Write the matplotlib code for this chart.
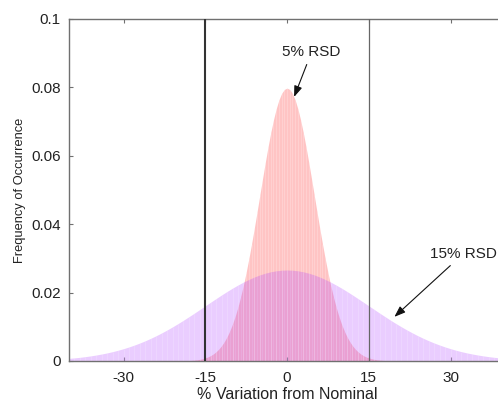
import numpy as np
import matplotlib
matplotlib.use("Agg")
import matplotlib.pyplot as plt

plt.rcParams['font.family'] = ['Liberation Sans', 'DejaVu Sans']

# 15% RSD distribution, sampled every 1 % from -40 to 40
x_wide = np.arange(-40, 41, 1.0)
half_wide = [0.02660, 0.02654, 0.02636, 0.02607, 0.02567, 0.02516, 0.02455, 0.02385,
             0.02307, 0.02221, 0.02130, 0.02033, 0.01931, 0.01827, 0.01720, 0.01613,
             0.01506, 0.01399, 0.01295, 0.01192, 0.01093, 0.00998, 0.00907, 0.00821,
             0.00739, 0.00663, 0.00592, 0.00526, 0.00466, 0.00410, 0.00360, 0.00314,
             0.00273, 0.00236, 0.00204, 0.00175, 0.00149, 0.00127, 0.00107, 0.00091,
             0.00076]
y_wide = np.array(half_wide[:0:-1] + half_wide)

# 5% RSD distribution, sampled every 0.5 % from -20 to 20
x_narrow = np.arange(-20, 20.01, 0.5)
half_narrow = [0.07979, 0.07939, 0.07821, 0.07628, 0.07365, 0.07041, 0.06664, 0.06245,
               0.05794, 0.05322, 0.04839, 0.04357, 0.03884, 0.03427, 0.02995, 0.02590,
               0.02218, 0.01881, 0.01579, 0.01312, 0.01080, 0.00880, 0.00709, 0.00566,
               0.00448, 0.00351, 0.00272, 0.00208, 0.00158, 0.00119, 0.00089, 0.00065,
               0.00048, 0.00034, 0.00025, 0.00017, 0.00012, 0.00008, 0.00006, 0.00004,
               0.00003]
y_narrow = np.array(half_narrow[:0:-1] + half_narrow)

limits = [-15, 15]
x_ticks = [-30, -15, 0, 15, 30]
y_ticks = [0, 0.02, 0.04, 0.06, 0.08, 0.1]
y_ticklabels = ['0', '0.02', '0.04', '0.06', '0.08', '0.1']

fig = plt.figure(figsize=(4.98, 4.01), dpi=100)
ax = fig.add_axes([0.1386, 0.0998, 0.8755, 0.8529])

# narrow curve, then the wide one laid over it
ax.fill_between(x_narrow, 0, y_narrow, color='#FFC4C4', lw=0, zorder=1)
ax.vlines(x_narrow, 0, y_narrow, color='white', alpha=0.25, lw=0.6, zorder=1.5)
ax.fill_between(x_wide, 0, y_wide, color='#AF38FF', alpha=0.25, lw=0, zorder=2)
ax.vlines(x_wide, 0, y_wide, color='white', alpha=0.2, lw=0.6, zorder=2.5)

ax.axvline(limits[0], color='#333333', lw=1.5, zorder=3)
ax.axvline(limits[1], color='#666666', lw=0.9, zorder=3)

ax.set_xlim(-40, 40)
ax.set_ylim(0, 0.1)
ax.set_xticks(x_ticks)
ax.set_xticklabels([str(t) for t in x_ticks])
ax.set_yticks(y_ticks)
ax.set_yticklabels(y_ticklabels)
ax.tick_params(direction='in', length=3, width=0.8, color='#707070',
               labelsize=11, labelcolor='#222222', top=True, pad=6)
ax.tick_params(axis='x', pad=7)
for s in ax.spines.values():
    s.set_color('#707070')
    s.set_linewidth(1.0)

ax.set_xlabel('% Variation from Nominal', fontsize=11.5, color='#222222', labelpad=2)
ax.set_ylabel('Frequency of Occurrence', fontsize=9.3, color='#222222', labelpad=3.5)

arrow = dict(arrowstyle='-|>,head_length=0.6,head_width=0.22', color='#111111',
             lw=0.8, shrinkA=2, shrinkB=0)
ax.annotate('5% RSD', xy=(1.3, 0.0772), xytext=(4.5, 0.0903), fontsize=11,
            color='#222222', ha='center', va='center', arrowprops=arrow, zorder=5)
ax.annotate('15% RSD', xy=(19.7, 0.0129), xytext=(32.3, 0.0313), fontsize=11,
            color='#222222', ha='center', va='center', arrowprops=arrow, zorder=5)

fig.savefig('out.png', dpi=100)
